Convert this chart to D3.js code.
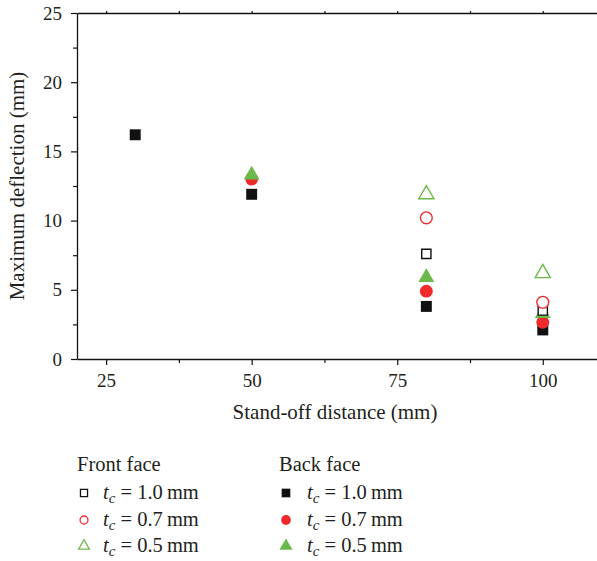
<!DOCTYPE html>
<html>
<head>
<meta charset="utf-8">
<script src="https://cdn.jsdelivr.net/npm/d3@7"></script>
<style>
  body { margin: 0; background: #fff; }
  text { font-family: "Liberation Serif", "DejaVu Serif", serif; fill: #231f20; }
</style>
</head>
<body>
<div id="chart"></div>
<script>
// stand-off distances (mm) and deflections (mm)
var frontSquareX = [80, 100],      frontSquareY = [7.6, 3.5];
var frontCircleX = [80, 100],      frontCircleY = [10.2, 4.1];
var frontTriX    = [80, 100],      frontTriY    = [11.9, 6.2];
var backSquareX  = [30, 50, 80, 100], backSquareY = [16.2, 11.9, 3.8, 2.1];
var backCircleX  = [50, 80, 100],  backCircleY  = [13.0, 4.9, 2.65];
var backTriX     = [50, 80, 100],  backTriY     = [13.3, 5.9, 3.3];
var xTicks = [25, 50, 75, 100];
var yTicks = [0, 5, 10, 15, 20, 25];
var legendLabels = ["1.0", "0.7", "0.5"];

var red = "#ee2a2d", green = "#6cb94b", black = "#111";

var W = 597, H = 561;
var svg = d3.select("#chart").append("svg").attr("width", W).attr("height", H);

var x = d3.scaleLinear().domain([20, 110]).range([77, 601]);
var y = d3.scaleLinear().domain([0, 25]).range([359, 13]);

var minorX = [37.5, 62.5, 87.5];
var minorY = d3.range(2.5, 25, 5);

function styleAxis(g) {
    g.selectAll("path.domain").attr("stroke", "#111").attr("stroke-width", 1.3);
    g.selectAll(".tick line").attr("stroke", "#111").attr("stroke-width", 1.2);
    g.selectAll(".tick text").style("font-size", "19px").attr("fill", "#231f20");
}

// x axis (bottom)
var gx = svg.append("g").attr("transform", "translate(0," + y(0) + ")")
    .call(d3.axisBottom(x).tickValues(xTicks).tickSize(6).tickPadding(6).tickSizeOuter(0).tickFormat(d3.format("d")));
gx.selectAll(".tick text").attr("dy", "0.85em");
styleAxis(gx);
svg.append("g").attr("transform", "translate(0," + y(0) + ")")
    .call(d3.axisBottom(x).tickValues(minorX).tickSize(4).tickSizeOuter(0).tickFormat(""))
    .call(function(g){ g.select("path.domain").remove(); styleAxis(g); });

// top frame with mirrored ticks
svg.append("g").attr("transform", "translate(0," + y(25) + ")")
    .call(d3.axisTop(x).tickValues(xTicks.concat(minorX)).tickSize(2).tickSizeOuter(0).tickFormat(""))
    .call(styleAxis);

// y axis
var gy = svg.append("g").attr("transform", "translate(" + x(20) + ",0)")
    .call(d3.axisLeft(y).tickValues(yTicks).tickSize(6).tickPadding(9).tickSizeOuter(0));
styleAxis(gy);
svg.append("g").attr("transform", "translate(" + x(20) + ",0)")
    .call(d3.axisLeft(y).tickValues(minorY).tickSize(4).tickSizeOuter(0).tickFormat(""))
    .call(function(g){ g.select("path.domain").remove(); styleAxis(g); });

// axis titles
svg.append("text").attr("x", 335).attr("y", 419).attr("text-anchor", "middle")
    .style("font-size", "21px").text("Stand-off distance (mm)");
svg.append("text").attr("transform", "translate(24,186) rotate(-90)").attr("text-anchor", "middle")
    .style("font-size", "21px").text("Maximum deflection (mm)");

function zip(xs, ys) { return xs.map(function(v, i){ return [v, ys[i]]; }); }

function drawSeries(data, shape, size, color, filled) {
    svg.append("g").selectAll("path").data(data).enter().append("path")
        .attr("transform", function(d){ return "translate(" + x(d[0]) + "," + y(d[1]) + ")"; })
        .attr("d", d3.symbol().type(shape).size(size))
        .attr("fill", filled ? color : "#fff")
        .attr("stroke", color)
        .attr("stroke-width", filled ? 0 : 1.4);
}

drawSeries(zip(backSquareX, backSquareY), d3.symbolSquare, 120, black, true);
drawSeries(zip(backCircleX, backCircleY), d3.symbolCircle, 130, red, true);
drawSeries(zip(backTriX, backTriY), d3.symbolTriangle, 110, green, true);
drawSeries(zip(frontSquareX, frontSquareY), d3.symbolSquare, 85, black, false);
drawSeries(zip(frontCircleX, frontCircleY), d3.symbolCircle, 110, red, false);
drawSeries(zip(frontTriX, frontTriY), d3.symbolTriangle, 100, green, false);

// legend
var shapes = [d3.symbolSquare, d3.symbolCircle, d3.symbolTriangle];
var colors = [black, red, green];
var rowY = [493, 520, 546];

function legendBlock(x0, title, filled, textX) {
    var g = svg.append("g");
    g.append("text").attr("x", x0 - 7).attr("y", 471).style("font-size", "20.5px").text(title);
    legendLabels.forEach(function(lab, i){
        g.append("path")
            .attr("transform", "translate(" + x0 + "," + rowY[i] + ")")
            .attr("d", d3.symbol().type(shapes[i]).size(filled ? 75 : 50)())
            .attr("fill", filled ? colors[i] : "none")
            .attr("stroke", colors[i])
            .attr("stroke-width", filled ? 0 : 1.3);
        var t = g.append("text").attr("x", textX).attr("y", rowY[i] + 6).style("font-size", "20.5px");
        t.append("tspan").style("font-style", "italic").text("t");
        t.append("tspan").style("font-style", "italic").style("font-size", "15px").attr("dy", 4).text("c");
        t.append("tspan").attr("dy", -4).text(" = " + lab + "\u2009mm");
    });
}
legendBlock(84, "Front face", false, 103);
legendBlock(286, "Back face", true, 307);
</script>
</body>
</html>
